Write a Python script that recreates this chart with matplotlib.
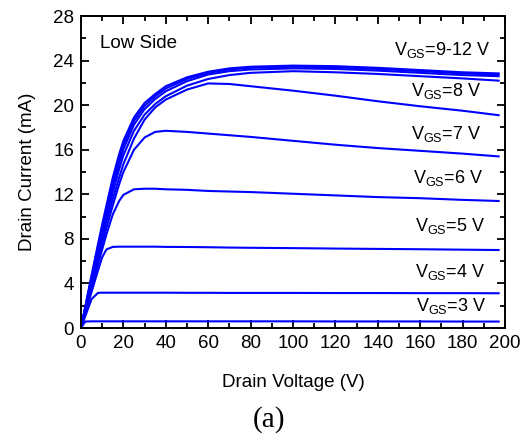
import matplotlib
matplotlib.use("Agg")
import matplotlib.pyplot as plt
from matplotlib.ticker import MultipleLocator

plt.rcParams['font.family'] = ['Liberation Sans', 'DejaVu Sans']
plt.rcParams['mathtext.fontset'] = 'custom'
plt.rcParams['mathtext.rm'] = 'Liberation Sans'

# Drain voltage sweep (V)
vds = [0, 2, 5, 8, 10, 12, 15, 18, 20, 25, 30, 35, 40, 50, 60, 70, 80,
       100, 120, 140, 160, 180, 197]

# Drain current (mA) for each gate voltage
id_12v = [0, 1.9, 4.75, 7.5, 9.3, 11.0, 13.5, 15.6, 16.8, 18.9, 20.2, 21.0, 21.7,
          22.5, 23.0, 23.3, 23.45, 23.55, 23.5, 23.35, 23.15, 22.95, 22.85]
id_11v = [0, 1.85, 4.6, 7.3, 9.05, 10.7, 13.1, 15.2, 16.45, 18.6, 19.95, 20.8, 21.5,
          22.35, 22.9, 23.2, 23.35, 23.45, 23.4, 23.25, 23.05, 22.85, 22.75]
id_10v = [0, 1.8, 4.45, 7.05, 8.75, 10.35, 12.7, 14.8, 16.05, 18.25, 19.65, 20.55, 21.25,
          22.15, 22.75, 23.05, 23.2, 23.3, 23.25, 23.1, 22.9, 22.7, 22.6]
id_9v = [0, 1.7, 4.25, 6.75, 8.4, 9.95, 12.2, 14.25, 15.5, 17.7, 19.15, 20.1, 20.8,
         21.75, 22.35, 22.7, 22.9, 23.05, 22.95, 22.8, 22.6, 22.4, 22.2]
id_8v = [0, 1.65, 4.1, 6.5, 8.05, 9.55, 11.6, 13.5, 14.7, 17.0, 18.7, 19.8, 20.5,
         21.4, 21.95, 21.9, 21.7, 21.3, 20.85, 20.35, 19.9, 19.5, 19.1]
id_7v = [0, 1.55, 3.85, 6.1, 7.55, 9.0, 11.0, 12.9, 14.0, 16.0, 17.1, 17.6, 17.7,
         17.6, 17.45, 17.3, 17.15, 16.8, 16.45, 16.15, 15.9, 15.65, 15.4]
id_6v = [0, 1.45, 3.6, 5.7, 7.05, 8.4, 10.2, 11.4, 11.95, 12.45, 12.5, 12.5, 12.45,
         12.4, 12.3, 12.25, 12.2, 12.05, 11.9, 11.75, 11.65, 11.5, 11.4]
id_5v = [0, 1.3, 3.25, 5.15, 6.35, 7.05, 7.28, 7.3, 7.3, 7.3, 7.3, 7.3, 7.28,
         7.27, 7.25, 7.22, 7.2, 7.17, 7.13, 7.1, 7.07, 7.03, 7.0]
id_4v = [0, 1.05, 2.6, 3.15, 3.17, 3.17, 3.17, 3.17, 3.17, 3.17, 3.17, 3.17, 3.17,
         3.16, 3.16, 3.15, 3.15, 3.15, 3.14, 3.14, 3.13, 3.13, 3.12]
id_3v = [0, 0.58, 0.6, 0.6, 0.6, 0.6, 0.6, 0.6, 0.6, 0.6, 0.6, 0.6, 0.6,
         0.6, 0.6, 0.6, 0.6, 0.6, 0.59, 0.59, 0.59, 0.58, 0.58]

curves = [id_12v, id_11v, id_10v, id_9v, id_8v, id_7v, id_6v, id_5v, id_4v, id_3v]

labels = ['9-12', '8', '7', '6', '5', '4', '3']
label_x = [193, 189, 189, 189.6, 190.5, 190.5, 191]
label_y = [24.5, 20.8, 17.0, 13.0, 8.7, 4.55, 1.55]

fig = plt.figure(figsize=(5.29, 4.34), dpi=100)
ax = fig.add_axes([0.1531, 0.2442, 0.8015, 0.7189])

for cur in curves:
    ax.plot(vds, cur, color='#0000ff', lw=1.5, solid_joinstyle='round')

for lab, lx, ly in zip(labels, label_x, label_y):
    ax.text(lx, ly, r'V$_{\mathregular{GS}}$=' + lab + ' V', ha='right',
            va='baseline', fontsize=13, color='black')

ax.text(0.045, 0.897, 'Low Side', transform=ax.transAxes, fontsize=13.5,
        ha='left', va='baseline')

ax.set_xlim(0, 200)
ax.set_ylim(0, 28)
ax.xaxis.set_major_locator(MultipleLocator(20))
ax.xaxis.set_minor_locator(MultipleLocator(10))
ax.yaxis.set_major_locator(MultipleLocator(4))
ax.yaxis.set_minor_locator(MultipleLocator(2))
ax.tick_params(which='both', direction='in', top=True, right=True, width=1.3,
               labelsize=13.5, colors='black')
ax.tick_params(which='major', length=6, pad=5)
ax.tick_params(which='minor', length=3.5)
for sp in ax.spines.values():
    sp.set_linewidth(1.4)

ax.set_xlabel('Drain Voltage (V)', fontsize=13.5, labelpad=16)
ax.set_ylabel('Drain Current (mA)', fontsize=13.5, labelpad=12)

fig.text(0.509, 0.016, '(a)', fontsize=21, family='Liberation Serif',
         ha='center', va='baseline')

fig.savefig('out.png', dpi=100)
